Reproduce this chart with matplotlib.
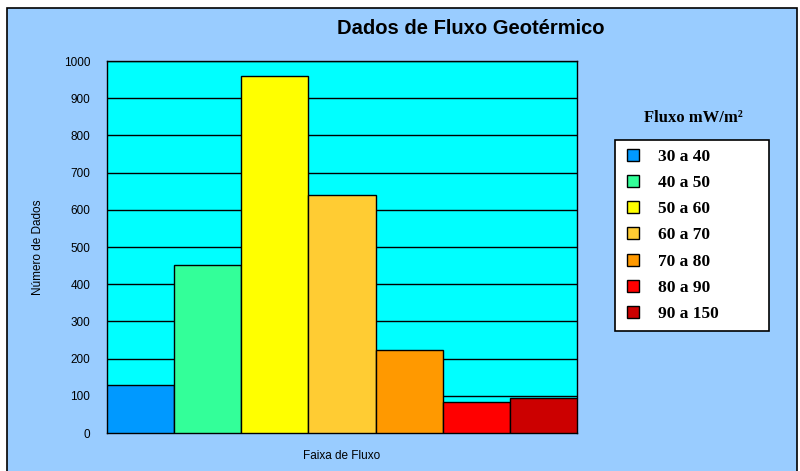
import matplotlib.pyplot as plt
from matplotlib.patches import Rectangle
from matplotlib.lines import Line2D

# faixas de fluxo e numero de dados
faixas = ["30 a 40", "40 a 50", "50 a 60", "60 a 70", "70 a 80", "80 a 90", "90 a 150"]
valores = [129, 452, 960, 640, 223, 84, 94]
cores = ["#0099FF", "#33FF99", "#FFFF00", "#FFCC33", "#FF9900", "#FF0000", "#CC0000"]
yticks = [0, 100, 200, 300, 400, 500, 600, 700, 800, 900, 1000]

fig = plt.figure(figsize=(8, 4.71), dpi=100, facecolor="white")

# fundo azul claro com moldura
fig.patches.append(Rectangle((7 / 800, -0.05), 790 / 800, 1 - 8 / 471 + 0.05,
                             transform=fig.transFigure, facecolor="#99CCFF",
                             edgecolor="black", linewidth=1.2, zorder=-10))

ax = fig.add_axes([107 / 800, 1 - 433 / 471, 470 / 800, 372 / 471])
ax.set_facecolor("#00FFFF")
ax.bar(range(len(valores)), valores, width=1.0, color=cores,
       edgecolor="black", linewidth=1.0, zorder=3)
ax.set_xlim(-0.5, len(valores) - 0.5)
ax.set_ylim(0, 1000)
ax.set_yticks(yticks)
ax.set_yticklabels([str(t) for t in yticks], family="Liberation Sans", fontsize=8.5)
ax.set_xticks([])
ax.tick_params(axis="y", length=0, pad=12)
ax.yaxis.grid(True, color="black", linewidth=1.0, zorder=1)
ax.set_axisbelow(True)
for s in ax.spines.values():
    s.set_linewidth(1.0)

ax.set_ylabel("Número de Dados", family="Liberation Sans", fontsize=8.5, labelpad=14)
ax.set_xlabel("Faixa de Fluxo", family="Liberation Sans", fontsize=8.5, labelpad=12)

fig.text(471 / 800, 1 - 28 / 471, "Dados de Fluxo Geotérmico", ha="center", va="center",
         family="Liberation Sans", fontsize=14.5, fontweight="bold")

# legenda
fig.text(693 / 800, 1 - 118 / 471, "Fluxo mW/m²", ha="center", va="center",
         family="Liberation Serif", fontsize=12, fontweight="bold")
handles = [Line2D([], [], marker="s", linestyle="none", markersize=8,
                  markerfacecolor=c, markeredgecolor="black", markeredgewidth=1.0)
           for c in cores]
leg = fig.legend(handles, faixas, loc="upper left", mode="expand",
                 bbox_to_anchor=(615 / 800, 1 - 329 / 471, 154 / 800, 189 / 471),
                 prop={"family": "Liberation Serif", "weight": "bold", "size": 12.5},
                 frameon=True, fancybox=False, edgecolor="black", framealpha=1,
                 borderpad=0.5, labelspacing=0.58, handletextpad=0.9,
                 handlelength=1.1, borderaxespad=0)
leg.get_frame().set_linewidth(1.2)

plt.savefig("out.png", dpi=100, facecolor=fig.get_facecolor())
